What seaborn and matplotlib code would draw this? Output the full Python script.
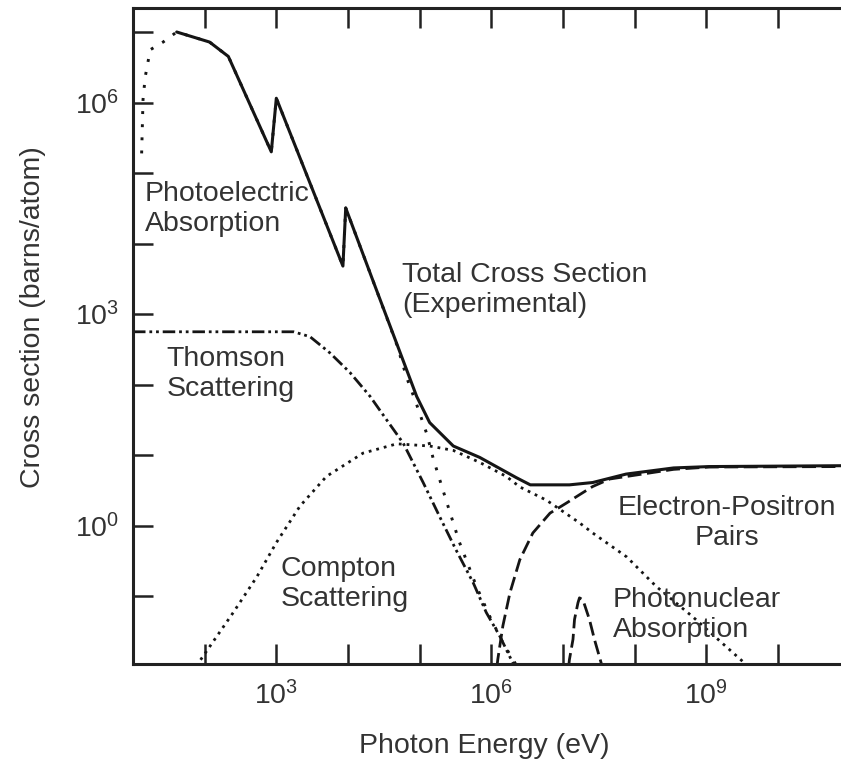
import matplotlib
matplotlib.use("Agg")
import matplotlib.pyplot as plt
import seaborn as sns

sns.set_style("ticks")
plt.rcParams["font.family"] = ["Liberation Sans", "DejaVu Sans"]
plt.rcParams["mathtext.default"] = "regular"

# photon energy (eV) / cross section (barns/atom)
total_energy = [40.7, 117, 214, 851, 1000, 8500, 9300, 2.24e4, 4.8e4, 9.1e4,
                1.38e5, 2.95e5, 6.9e5, 2.24e6, 3.5e6, 1.23e7, 2.6e7, 7.6e7,
                3.5e8, 1.1e9, 8e10]
total_sigma = [1.0e7, 7.2e6, 4.5e6, 2.0e5, 1.15e6, 4.8e3, 3.2e4, 2.95e3, 380, 68,
               29, 13.5, 9.3, 4.8, 3.8, 3.8, 4.1, 5.4,
               6.6, 6.9, 7.1]

photo_energy = [13.2, 13.5, 13.8, 14.8, 17.4, 26.3, 40.7, 117, 214, 851, 1000,
                8500, 9300, 2.24e4, 4.8e4, 6.6e4, 9.1e4, 1.26e5, 1.55e5,
                2.34e5, 3.6e5, 6.2e5, 9.5e5, 1.45e6, 2.24e6]
photo_sigma = [1.9e5, 4.6e5, 1.1e6, 2.3e6, 5.6e6, 7.2e6, 1.0e7, 7.2e6, 4.5e6,
               2.0e5, 1.15e6, 4.8e3, 3.2e4, 2.95e3, 370, 126, 52, 20, 8.9,
               2.3, 0.58, 0.138, 0.052, 0.022, 0.0105]

thomson_energy = [10, 1740, 2950, 5600, 1.07e4, 2.04e4, 3.47e4, 5.9e4, 1.12e5,
                  1.9e5, 3.2e5, 5.6e5, 8.5e5, 1.32e6, 1.9e6, 2.15e6]
thomson_sigma = [562, 562, 479, 282, 148, 68, 31.6, 14.8, 4.1,
                 1.35, 0.46, 0.155, 0.059, 0.027, 0.0126, 0.01]

compton_energy = [79, 85, 251, 537, 1000, 2140, 5000, 1.62e4, 4.8e4, 1.38e5,
                  2.95e5, 6.9e5, 1.62e6, 2.5e6, 5.9e6, 1.7e7, 2.6e7, 7.8e7,
                  2.0e8, 6.5e8, 3.2e9, 3.6e9]
compton_sigma = [0.01, 0.012, 0.059, 0.19, 0.575, 1.9, 5.0, 10.7, 14.5, 13.5,
                 11.7, 7.9, 5.0, 3.55, 2.3, 1.1, 0.79, 0.36,
                 0.138, 0.051, 0.012, 0.01]

pair_energy = [1.2e6, 1.23e6, 1.45e6, 1.82e6, 2.5e6, 3.8e6, 6.6e6, 1.12e7,
               1.7e7, 2.6e7, 4.5e7, 3.5e8, 1.1e9, 8e10]
pair_sigma = [0.01, 0.0126, 0.038, 0.112, 0.33, 0.79, 1.51, 2.1,
              2.75, 3.6, 4.6, 6.3, 6.8, 6.9]

nuclear_energy = [1.2e7, 1.23e7, 1.38e7, 1.45e7, 1.62e7, 1.7e7, 1.9e7, 2.34e7,
                  2.75e7, 3.47e7, 3.55e7]
nuclear_sigma = [0.01, 0.0126, 0.0245, 0.047, 0.081, 0.095, 0.089, 0.047,
                 0.0245, 0.0107, 0.01]

x_ticks = [1e1, 1e2, 1e3, 1e4, 1e5, 1e6, 1e7, 1e8, 1e9, 1e10]
x_labels = ["", "", "$10^{3}$", "", "", "$10^{6}$", "", "", "$10^{9}$", ""]
y_ticks = [1e-1, 1e0, 1e1, 1e2, 1e3, 1e4, 1e5, 1e6, 1e7]
y_labels = ["", "$10^{0}$", "", "", "$10^{3}$", "", "", "$10^{6}$", ""]

line_color = "#151515"
text_color = "#333333"
fs = 20.5


def main():
    fig = plt.figure(figsize=(8.41, 7.66), dpi=100)
    ax = fig.add_axes([133 / 841, 1 - 664 / 766, 708 / 841, 656 / 766])

    dotted_wide = (0, (1, 3.5))
    dotted = (0, (1, 1.8))
    dash_dot_dot = (0, (4.5, 1.4, 1, 1.4, 1, 1.4))
    dashed = (0, (5, 2))

    sns.lineplot(x=photo_energy, y=photo_sigma, ax=ax, sort=False, estimator=None,
                 color=line_color, lw=2.1, linestyle=dotted_wide, dash_capstyle="butt")
    sns.lineplot(x=compton_energy, y=compton_sigma, ax=ax, sort=False, estimator=None,
                 color=line_color, lw=2.0, linestyle=dotted, dash_capstyle="butt")
    sns.lineplot(x=thomson_energy, y=thomson_sigma, ax=ax, sort=False, estimator=None,
                 color=line_color, lw=2.0, linestyle=dash_dot_dot, dash_capstyle="butt")
    sns.lineplot(x=pair_energy, y=pair_sigma, ax=ax, sort=False, estimator=None,
                 color=line_color, lw=2.0, linestyle=dashed, dash_capstyle="butt")
    sns.lineplot(x=nuclear_energy, y=nuclear_sigma, ax=ax, sort=False, estimator=None,
                 color=line_color, lw=2.0, linestyle=dashed, dash_capstyle="butt")
    sns.lineplot(x=total_energy, y=total_sigma, ax=ax, sort=False, estimator=None,
                 color=line_color, lw=2.2)

    ax.set_xscale("log")
    ax.set_yscale("log")
    ax.set_xlim(10, 10 ** 10.88)
    ax.set_ylim(10 ** -1.96, 10 ** 7.34)
    ax.set_xticks(x_ticks, x_labels)
    ax.set_yticks(y_ticks, y_labels)
    ax.minorticks_off()

    ax.tick_params(direction="in", length=14.4, width=1.8, color="#222222",
                   labelsize=fs, labelcolor=text_color, top=True, right=False)
    ax.tick_params(axis="x", pad=12)
    ax.tick_params(axis="y", pad=10)
    for side in ["left", "bottom", "top"]:
        ax.spines[side].set_linewidth(2.2)
        ax.spines[side].set_color("#222222")
    ax.spines["right"].set_visible(False)

    ax.set_xlabel("Photon Energy (eV)", fontsize=fs, color=text_color)
    ax.set_ylabel("Cross section (barns/atom)", fontsize=fs, color=text_color)
    ax.xaxis.set_label_coords(0.496, -0.105)
    ax.yaxis.set_label_coords(-0.123, 0.529)

    tkw = dict(transform=ax.transAxes, fontsize=fs, color=text_color, va="top")
    ax.text(0.017, 0.737, "Photoelectric\nAbsorption", ha="left", **tkw)
    ax.text(0.047, 0.484, "Thomson\nScattering", ha="left", **tkw)
    ax.text(0.380, 0.613, "Total Cross Section\n(Experimental)", ha="left", **tkw)
    ax.text(0.208, 0.165, "Compton\nScattering", ha="left", **tkw)
    ax.text(0.839, 0.257, "Electron-Positron\nPairs", ha="center",
            multialignment="center", **tkw)
    ax.text(0.678, 0.118, "Photonuclear\nAbsorption", ha="left", **tkw)

    fig.savefig("out.png", dpi=100)


if __name__ == "__main__":
    main()
